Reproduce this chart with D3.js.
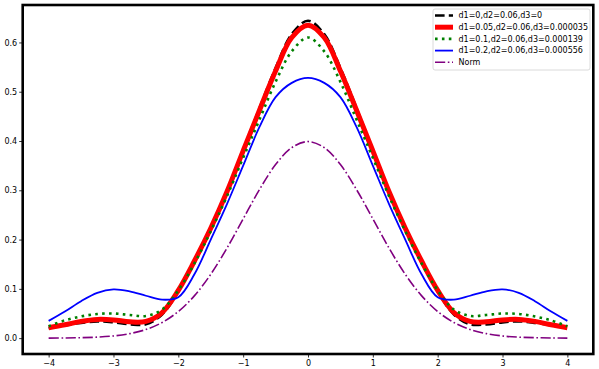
<!DOCTYPE html>
<html>
<head>
<meta charset="utf-8">
<script src="https://cdn.jsdelivr.net/npm/d3@7"></script>
<style>
  body { margin: 0; background: #fff; }
  #chart { width: 599px; height: 369px; }
  text { font-family: 'DejaVu Sans', sans-serif; }
</style>
</head>
<body>
<div id="chart"></div>
<script>
// x grid shared by all curves
const xs = [-4, -3.75, -3.5, -3.25, -3, -2.75, -2.5, -2.25, -2, -1.75, -1.5, -1.25, -1, -0.75, -0.5, -0.25,
  0, 0.25, 0.5, 0.75, 1, 1.25, 1.5, 1.75, 2, 2.25, 2.5, 2.75, 3, 3.25, 3.5, 3.75, 4]

const blackVals = [0.020, 0.026, 0.031, 0.034, 0.032, 0.028, 0.028, 0.048, 0.095, 0.157, 0.224, 0.298, 0.382, 0.466, 0.548, 0.617,
  0.644, 0.617, 0.548, 0.466, 0.382, 0.298, 0.224, 0.157, 0.095, 0.048, 0.028, 0.028, 0.032, 0.034, 0.031, 0.026, 0.020]
const redVals = [0.021, 0.027, 0.034, 0.038, 0.037, 0.033, 0.034, 0.052, 0.097, 0.157, 0.223, 0.297, 0.380, 0.462, 0.542, 0.610,
  0.635, 0.610, 0.542, 0.462, 0.380, 0.297, 0.223, 0.157, 0.097, 0.052, 0.034, 0.033, 0.037, 0.038, 0.034, 0.027, 0.021]
const greenVals = [0.024, 0.036, 0.044, 0.049, 0.050, 0.047, 0.045, 0.058, 0.097, 0.152, 0.217, 0.288, 0.366, 0.443, 0.520, 0.582,
  0.610, 0.582, 0.520, 0.443, 0.366, 0.288, 0.217, 0.152, 0.097, 0.058, 0.045, 0.047, 0.050, 0.049, 0.044, 0.036, 0.024]
const blueVals = [0.035, 0.054, 0.075, 0.092, 0.099, 0.095, 0.086, 0.078, 0.083, 0.130, 0.200, 0.272, 0.350, 0.428, 0.489, 0.518,
  0.528, 0.518, 0.489, 0.428, 0.350, 0.272, 0.200, 0.130, 0.083, 0.078, 0.086, 0.095, 0.099, 0.092, 0.075, 0.054, 0.035]
const normVals = [0.0001, 0.0004, 0.0009, 0.0020, 0.0044, 0.0091, 0.0175, 0.0317, 0.0540, 0.0863, 0.1295, 0.1826, 0.2420, 0.3011, 0.3521, 0.3867,
  0.3989, 0.3867, 0.3521, 0.3011, 0.2420, 0.1826, 0.1295, 0.0863, 0.0540, 0.0317, 0.0175, 0.0091, 0.0044, 0.0020, 0.0009, 0.0004, 0.0001]

const labels = ['d1=0,d2=0.06,d3=0', 'd1=0.05,d2=0.06,d3=0.000035', 'd1=0.1,d2=0.06,d3=0.000139', 'd1=0.2,d2=0.06,d3=0.000556', 'Norm']
const xTicks = [-4, -3, -2, -1, 0, 1, 2, 3, 4]
const yTicks = [0, 0.1, 0.2, 0.3, 0.4, 0.5, 0.6]

const series = [
  { name: labels[0], values: blackVals, color: '#000000', width: 2.6, dash: '9.6,4.2' },
  { name: labels[1], values: redVals, color: '#ff0000', width: 5, dash: null },
  { name: labels[2], values: greenVals, color: '#008000', width: 2.6, dash: '2.6,4.3' },
  { name: labels[3], values: blueVals, color: '#0000ff', width: 1.8, dash: null },
  { name: labels[4], values: normVals, color: '#800080', width: 1.6, dash: '10.2,2.6,1.6,2.6' }
]

const width = 599
const height = 369
const plot = { left: 22.7, right: 593.3, top: 5, bottom: 354 }

const xScale = d3.scaleLinear().domain([-4.4, 4.4]).range([plot.left, plot.right])
const yScale = d3.scaleLinear().domain([-0.0322, 0.676]).range([plot.bottom, plot.top])

const svg = d3
  .select('#chart')
  .append('svg')
  .attr('width', width)
  .attr('height', height)
  .attr('viewBox', [0, 0, width, height])

const clip = svg.append('clipPath').attr('id', 'clip')
clip
  .append('rect')
  .attr('x', plot.left)
  .attr('y', plot.top)
  .attr('width', plot.right - plot.left)
  .attr('height', plot.bottom - plot.top)

const line = d3
  .line()
  .x((d, i) => xScale(xs[i]))
  .y((d) => yScale(d))
  .curve(d3.curveCatmullRom.alpha(0.5))

svg
  .append('g')
  .attr('clip-path', 'url(#clip)')
  .attr('fill', 'none')
  .selectAll()
  .data(series)
  .join('path')
  .attr('d', (d) => line(d.values))
  .attr('stroke', (d) => d.color)
  .attr('stroke-width', (d) => d.width)
  .attr('stroke-dasharray', (d) => d.dash)
  .attr('stroke-linejoin', 'round')

// axes
const xAxis = svg
  .append('g')
  .attr('transform', `translate(0,${plot.bottom})`)
  .call(d3.axisBottom(xScale).tickValues(xTicks).tickFormat(d3.format('d')).tickSizeOuter(0).tickSize(3.5).tickPadding(2.5))
const yAxis = svg
  .append('g')
  .attr('transform', `translate(${plot.left},0)`)
  .call(d3.axisLeft(yScale).tickValues(yTicks).tickFormat(d3.format('.1f')).tickSizeOuter(0).tickSize(3.5).tickPadding(2))

;[xAxis, yAxis].forEach((g) => {
  g.select('.domain').remove()
  g.selectAll('.tick line').attr('stroke', '#000').attr('stroke-width', 0.8)
  g.selectAll('.tick text').attr('fill', '#000').attr('font-size', 8).attr('font-family', 'DejaVu Sans, sans-serif')
})

// frame
svg
  .append('rect')
  .attr('x', plot.left)
  .attr('y', plot.top)
  .attr('width', plot.right - plot.left)
  .attr('height', plot.bottom - plot.top)
  .attr('fill', 'none')
  .attr('stroke', '#000')
  .attr('stroke-width', 2.6)

// legend
const legend = svg.append('g').attr('transform', 'translate(433,9)')
legend
  .append('rect')
  .attr('width', 157)
  .attr('height', 61)
  .attr('rx', 2)
  .attr('fill', '#fff')
  .attr('fill-opacity', 0.8)
  .attr('stroke', '#d0d0d0')
  .attr('stroke-width', 0.8)

const rows = legend
  .selectAll('.row')
  .data(series)
  .join('g')
  .attr('class', 'row')
  .attr('transform', (d, i) => `translate(0,${6.5 + i * 11.7})`)

rows
  .append('line')
  .attr('x1', 2)
  .attr('x2', 20)
  .attr('stroke', (d) => d.color)
  .attr('stroke-width', (d) => d.width)
  .attr('stroke-dasharray', (d) => d.dash)

rows
  .append('text')
  .attr('x', 25.5)
  .attr('dy', '0.35em')
  .attr('font-size', 8)
  .attr('fill', '#000')
  .text((d) => d.name)
</script>
</body>
</html>
